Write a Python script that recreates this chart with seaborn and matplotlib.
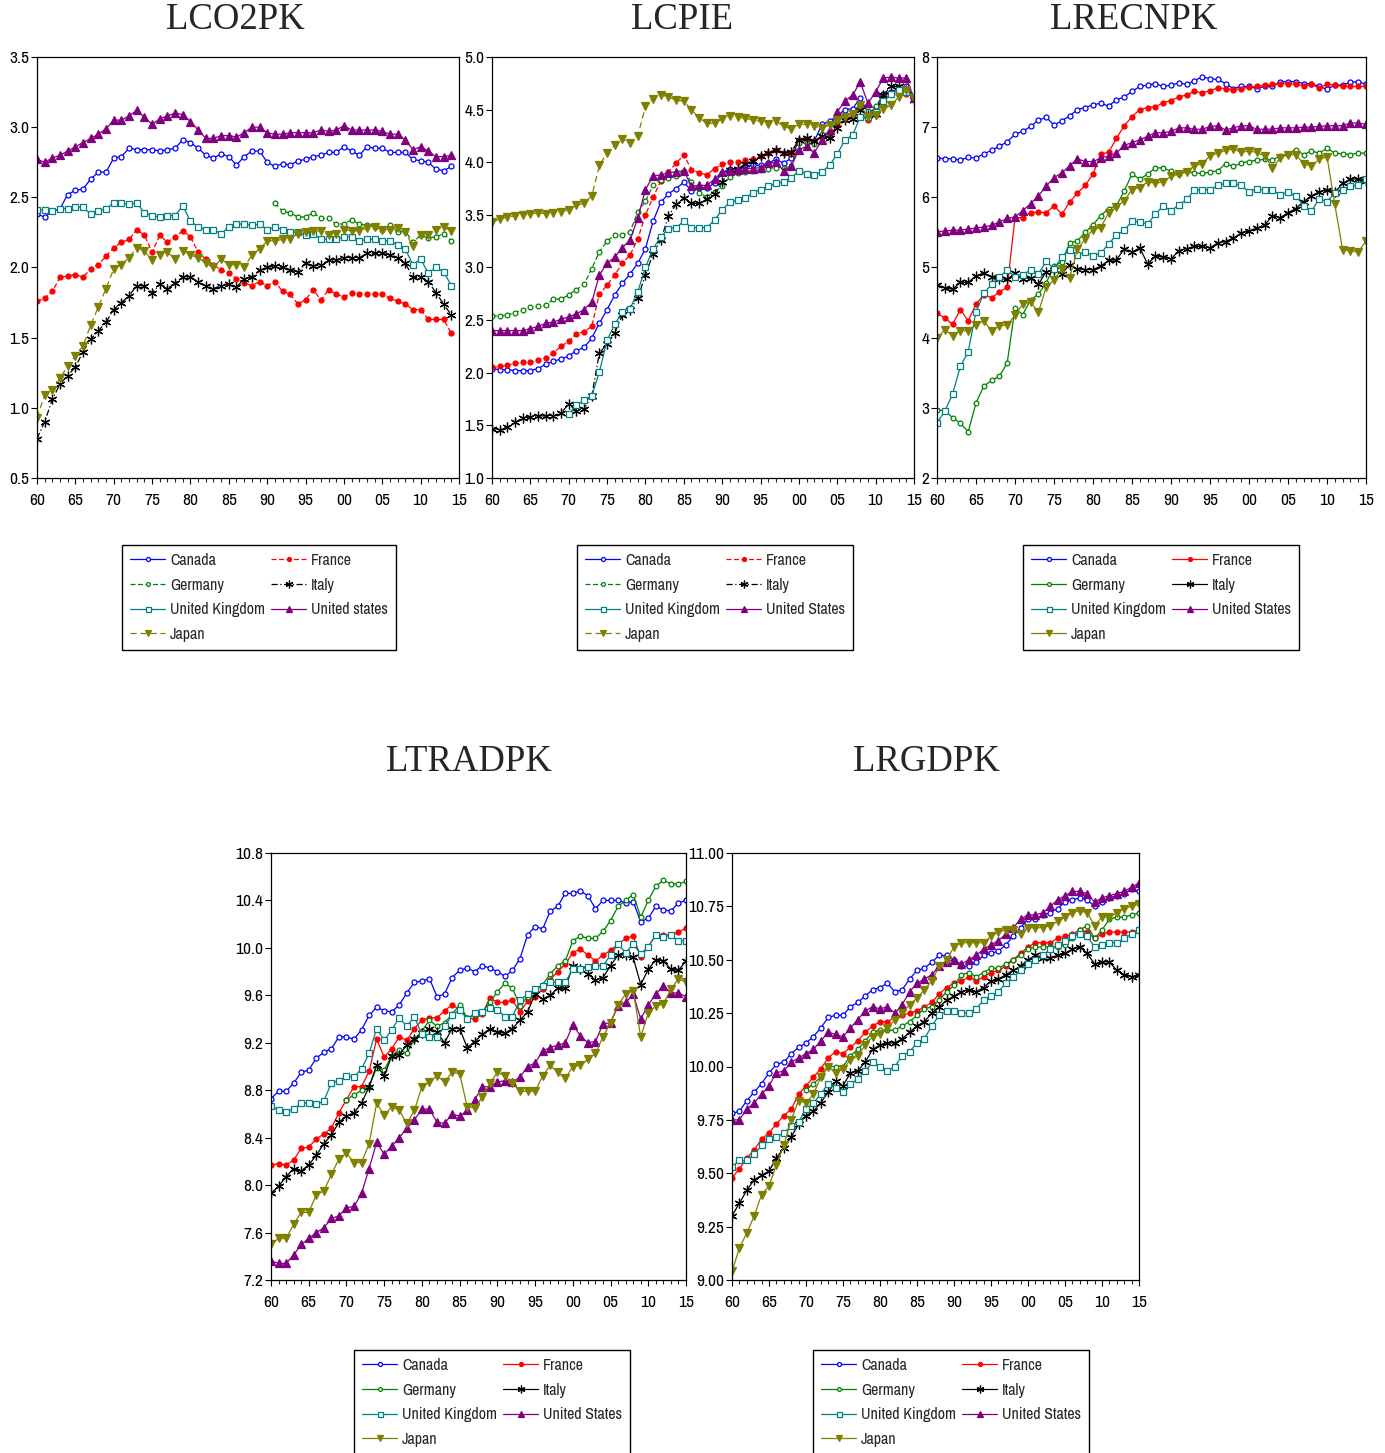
import matplotlib
matplotlib.use("Agg")
import matplotlib.pyplot as plt
from matplotlib import font_manager as fm
from matplotlib.lines import Line2D
from matplotlib.ticker import MultipleLocator, FixedLocator
import seaborn as sns
import numpy as np

sns.set_style("white")

# look for a narrow sans face (the original uses Arial Narrow)
narrow_name, narrow_stretch = None, "normal"
for f in fm.fontManager.ttflist:
    nm = f.name.lower()
    if "narrow" in nm or ("condensed" in nm and "mono" not in nm and "serif" not in nm):
        narrow_name, narrow_stretch = f.name, "normal"
        break
if narrow_name is None:
    for f in fm.fontManager.ttflist:
        if f.stretch in ("condensed", "semi-condensed", "extra-condensed", 62.5, 75, 87.5) \
                and "mono" not in f.name.lower() and "serif" not in f.name.lower():
            narrow_name, narrow_stretch = f.name, f.stretch
            break
if narrow_name is None:
    narrow_name, small = "Liberation Sans", True
else:
    small = False

plt.rcParams['font.family'] = [narrow_name, 'DejaVu Sans']
plt.rcParams['font.stretch'] = narrow_stretch
tick_fs = 10 if small else 12.5
leg_fs = 9.5 if small else 11.5

countries = ["Canada", "France", "Germany", "Italy", "United Kingdom", "United States", "Japan"]

# ---- LCO2PK (1960-2014, Germany from 1991) ----
co2_canada = [2.38, 2.36, 2.40, 2.42, 2.52, 2.55, 2.56, 2.63, 2.68, 2.68, 2.78, 2.79, 2.85, 2.84, 2.84, 2.84, 2.83, 2.84, 2.85, 2.91,
              2.89, 2.85, 2.80, 2.78, 2.81, 2.79, 2.73, 2.79, 2.83, 2.83, 2.75, 2.72, 2.74, 2.73, 2.76, 2.77, 2.79, 2.80, 2.82, 2.82,
              2.86, 2.83, 2.80, 2.86, 2.85, 2.85, 2.82, 2.82, 2.82, 2.77, 2.76, 2.75, 2.70, 2.69, 2.72]
co2_france = [1.76, 1.78, 1.83, 1.93, 1.94, 1.95, 1.93, 1.99, 2.02, 2.08, 2.14, 2.18, 2.20, 2.27, 2.23, 2.11, 2.23, 2.18, 2.22, 2.26,
              2.22, 2.11, 2.06, 2.02, 1.98, 1.96, 1.92, 1.89, 1.87, 1.90, 1.87, 1.90, 1.83, 1.81, 1.74, 1.77, 1.84, 1.77, 1.84, 1.81,
              1.79, 1.82, 1.81, 1.81, 1.81, 1.81, 1.78, 1.76, 1.74, 1.70, 1.70, 1.63, 1.63, 1.63, 1.53]
co2_germany = [2.46, 2.40, 2.39, 2.36, 2.36, 2.39, 2.35, 2.35, 2.31, 2.31, 2.34, 2.31, 2.30, 2.29, 2.27, 2.30, 2.25, 2.26, 2.18, 2.23,
               2.21, 2.22, 2.24, 2.19]
co2_italy = [0.78, 0.90, 1.06, 1.17, 1.23, 1.29, 1.40, 1.49, 1.55, 1.61, 1.70, 1.75, 1.80, 1.87, 1.87, 1.82, 1.88, 1.85, 1.89, 1.93,
             1.93, 1.90, 1.87, 1.85, 1.87, 1.88, 1.86, 1.92, 1.93, 1.98, 2.00, 2.01, 2.00, 1.98, 1.97, 2.03, 2.01, 2.02, 2.05, 2.05,
             2.07, 2.07, 2.07, 2.10, 2.10, 2.10, 2.09, 2.07, 2.03, 1.93, 1.93, 1.90, 1.82, 1.74, 1.66]
co2_uk = [2.41, 2.41, 2.40, 2.42, 2.42, 2.43, 2.43, 2.38, 2.40, 2.42, 2.46, 2.46, 2.45, 2.46, 2.39, 2.37, 2.36, 2.37, 2.37, 2.44,
          2.33, 2.29, 2.27, 2.27, 2.24, 2.29, 2.31, 2.31, 2.30, 2.31, 2.27, 2.29, 2.27, 2.25, 2.25, 2.23, 2.24, 2.20, 2.20, 2.20,
          2.22, 2.22, 2.19, 2.20, 2.20, 2.19, 2.19, 2.16, 2.13, 2.02, 2.06, 1.96, 2.00, 1.97, 1.87]
co2_us = [2.77, 2.75, 2.78, 2.80, 2.83, 2.86, 2.89, 2.92, 2.95, 2.99, 3.05, 3.05, 3.08, 3.12, 3.07, 3.02, 3.06, 3.08, 3.10, 3.09,
          3.04, 2.98, 2.92, 2.92, 2.94, 2.94, 2.93, 2.96, 3.00, 3.00, 2.96, 2.95, 2.95, 2.96, 2.96, 2.96, 2.96, 2.98, 2.97, 2.98,
          3.01, 2.98, 2.98, 2.98, 2.98, 2.97, 2.95, 2.95, 2.91, 2.84, 2.86, 2.83, 2.79, 2.79, 2.80]
co2_japan = [0.93, 1.09, 1.13, 1.21, 1.30, 1.37, 1.44, 1.59, 1.72, 1.85, 1.99, 2.02, 2.07, 2.14, 2.12, 2.05, 2.09, 2.11, 2.06, 2.12,
             2.09, 2.07, 2.03, 2.00, 2.06, 2.02, 2.02, 2.00, 2.09, 2.13, 2.19, 2.19, 2.20, 2.20, 2.24, 2.25, 2.26, 2.26, 2.23, 2.24,
             2.27, 2.26, 2.26, 2.28, 2.29, 2.27, 2.27, 2.28, 2.25, 2.15, 2.23, 2.23, 2.27, 2.29, 2.26]

# ---- LCPIE (1960-2015, UK from 1970) ----
cpi_canada = [2.04, 2.03, 2.03, 2.02, 2.02, 2.02, 2.04, 2.08, 2.11, 2.13, 2.16, 2.21, 2.24, 2.33, 2.47, 2.60, 2.74, 2.85, 2.94, 3.04,
              3.18, 3.44, 3.62, 3.70, 3.75, 3.81, 3.73, 3.76, 3.76, 3.80, 3.90, 3.94, 3.93, 3.96, 3.97, 3.97, 3.99, 4.03, 3.99, 4.04,
              4.21, 4.21, 4.20, 4.36, 4.39, 4.44, 4.50, 4.51, 4.61, 4.47, 4.51, 4.65, 4.67, 4.70, 4.72, 4.61]
cpi_france = [2.05, 2.06, 2.07, 2.09, 2.10, 2.10, 2.12, 2.14, 2.19, 2.25, 2.30, 2.37, 2.39, 2.44, 2.75, 2.83, 2.93, 3.04, 3.12, 3.27,
              3.50, 3.67, 3.82, 3.91, 3.99, 4.07, 3.93, 3.90, 3.88, 3.94, 3.98, 4.00, 4.00, 4.02, 4.03, 4.06, 4.09, 4.12, 4.09, 4.09,
              4.21, 4.22, 4.20, 4.24, 4.25, 4.36, 4.41, 4.45, 4.54, 4.40, 4.45, 4.62, 4.66, 4.69, 4.65, 4.60]
cpi_germany = [2.54, 2.54, 2.55, 2.57, 2.60, 2.62, 2.63, 2.64, 2.70, 2.70, 2.74, 2.79, 2.84, 2.99, 3.15, 3.25, 3.31, 3.31, 3.34, 3.53,
               3.63, 3.78, 3.83, 3.85, 3.87, 3.92, 3.81, 3.71, 3.67, 3.72, 3.77, 3.86, 3.90, 3.91, 3.92, 3.93, 3.94, 3.95, 3.95, 3.96,
               4.18, 4.18, 4.17, 4.27, 4.28, 4.39, 4.43, 4.47, 4.55, 4.49, 4.53, 4.64, 4.65, 4.69, 4.67, 4.61]
cpi_italy = [1.47, 1.46, 1.48, 1.53, 1.57, 1.58, 1.59, 1.59, 1.59, 1.62, 1.70, 1.64, 1.66, 1.78, 2.19, 2.27, 2.38, 2.55, 2.60, 2.71,
             2.93, 3.13, 3.26, 3.49, 3.60, 3.66, 3.61, 3.61, 3.65, 3.70, 3.81, 3.93, 3.94, 3.98, 4.01, 4.06, 4.09, 4.12, 4.09, 4.10,
             4.21, 4.23, 4.20, 4.25, 4.23, 4.33, 4.40, 4.41, 4.50, 4.45, 4.46, 4.64, 4.72, 4.72, 4.69, 4.59]
cpi_uk = [1.61, 1.69, 1.74, 1.78, 2.01, 2.31, 2.46, 2.58, 2.61, 2.77, 3.00, 3.18, 3.29, 3.37, 3.38, 3.44, 3.38, 3.38, 3.38, 3.45,
          3.55, 3.62, 3.64, 3.66, 3.71, 3.74, 3.77, 3.80, 3.81, 3.85, 3.92, 3.89, 3.88, 3.91, 3.97, 4.08, 4.21, 4.26, 4.43, 4.43,
          4.48, 4.58, 4.65, 4.69, 4.67, 4.61]
cpi_us = [2.40, 2.40, 2.40, 2.40, 2.40, 2.42, 2.44, 2.47, 2.48, 2.51, 2.53, 2.56, 2.60, 2.67, 2.93, 3.04, 3.10, 3.19, 3.26, 3.47,
          3.74, 3.87, 3.88, 3.90, 3.91, 3.92, 3.77, 3.78, 3.78, 3.84, 3.91, 3.92, 3.93, 3.94, 3.94, 3.95, 3.99, 4.00, 3.92, 3.96,
          4.12, 4.15, 4.09, 4.21, 4.31, 4.48, 4.58, 4.64, 4.76, 4.56, 4.67, 4.80, 4.81, 4.80, 4.80, 4.61]
cpi_japan = [3.43, 3.46, 3.48, 3.49, 3.50, 3.51, 3.52, 3.51, 3.52, 3.53, 3.55, 3.59, 3.61, 3.68, 3.97, 4.09, 4.16, 4.22, 4.18, 4.25,
             4.53, 4.60, 4.64, 4.62, 4.59, 4.58, 4.50, 4.42, 4.37, 4.37, 4.41, 4.44, 4.43, 4.42, 4.40, 4.39, 4.36, 4.39, 4.34, 4.32,
             4.36, 4.36, 4.34, 4.33, 4.35, 4.40, 4.43, 4.46, 4.54, 4.43, 4.45, 4.51, 4.54, 4.62, 4.69, 4.61]

# ---- LRECNPK (1960-2015) ----
rec_canada = [6.56, 6.55, 6.55, 6.53, 6.57, 6.56, 6.62, 6.67, 6.73, 6.79, 6.90, 6.94, 7.01, 7.10, 7.14, 7.03, 7.09, 7.16, 7.25, 7.28,
              7.32, 7.34, 7.30, 7.39, 7.43, 7.51, 7.58, 7.60, 7.62, 7.58, 7.60, 7.63, 7.61, 7.66, 7.72, 7.69, 7.68, 7.62, 7.55, 7.58,
              7.58, 7.55, 7.58, 7.58, 7.65, 7.65, 7.65, 7.62, 7.62, 7.58, 7.54, 7.60, 7.60, 7.64, 7.65, 7.61]
rec_france = [4.35, 4.28, 4.19, 4.40, 4.24, 4.48, 4.61, 4.57, 4.65, 4.72, 5.71, 5.71, 5.78, 5.79, 5.78, 5.88, 5.76, 5.93, 6.06, 6.17,
              6.33, 6.62, 6.64, 6.84, 7.02, 7.15, 7.25, 7.28, 7.29, 7.35, 7.38, 7.43, 7.46, 7.51, 7.49, 7.52, 7.56, 7.55, 7.53, 7.55,
              7.57, 7.58, 7.60, 7.61, 7.62, 7.62, 7.61, 7.59, 7.61, 7.56, 7.61, 7.60, 7.58, 7.58, 7.58, 7.58]
rec_germany = [2.97, 2.96, 2.86, 2.78, 2.66, 3.07, 3.31, 3.39, 3.45, 3.64, 4.42, 4.33, 4.54, 4.62, 4.78, 5.02, 5.08, 5.35, 5.38, 5.50,
               5.61, 5.74, 5.84, 5.88, 6.09, 6.33, 6.26, 6.33, 6.42, 6.42, 6.37, 6.33, 6.37, 6.35, 6.34, 6.36, 6.38, 6.48, 6.44, 6.49,
               6.51, 6.53, 6.54, 6.53, 6.59, 6.62, 6.68, 6.61, 6.66, 6.63, 6.70, 6.63, 6.62, 6.61, 6.63, 6.63]
rec_italy = [4.75, 4.71, 4.69, 4.79, 4.79, 4.88, 4.92, 4.87, 4.84, 4.83, 4.92, 4.84, 4.85, 4.76, 4.94, 4.96, 4.91, 5.04, 4.98, 4.97,
             4.97, 5.02, 5.10, 5.11, 5.26, 5.22, 5.28, 5.05, 5.16, 5.15, 5.12, 5.24, 5.27, 5.30, 5.30, 5.28, 5.35, 5.37, 5.42, 5.49,
             5.52, 5.56, 5.60, 5.74, 5.71, 5.78, 5.84, 5.94, 6.02, 6.08, 6.11, 6.07, 6.20, 6.26, 6.26, 6.23]
rec_uk = [2.79, 2.95, 3.20, 3.59, 3.80, 4.37, 4.63, 4.76, 4.87, 4.96, 4.87, 4.89, 4.97, 4.91, 5.09, 4.98, 5.15, 5.25, 5.18, 5.22,
          5.17, 5.20, 5.34, 5.46, 5.53, 5.66, 5.65, 5.62, 5.76, 5.88, 5.81, 5.89, 5.97, 6.10, 6.11, 6.11, 6.17, 6.20, 6.20, 6.17,
          6.08, 6.12, 6.10, 6.10, 6.04, 6.07, 6.02, 5.88, 5.80, 5.98, 5.94, 6.06, 6.10, 6.16, 6.17, 6.26]
rec_us = [5.51, 5.52, 5.53, 5.53, 5.55, 5.56, 5.58, 5.60, 5.65, 5.70, 5.72, 5.81, 5.91, 6.02, 6.16, 6.28, 6.35, 6.45, 6.55, 6.51,
          6.51, 6.56, 6.59, 6.63, 6.74, 6.78, 6.82, 6.87, 6.92, 6.92, 6.94, 6.99, 6.99, 6.97, 6.97, 7.01, 7.02, 6.96, 6.99, 7.02,
          7.02, 6.97, 6.97, 6.97, 6.99, 6.99, 6.99, 7.00, 7.00, 7.01, 7.02, 7.02, 7.02, 7.06, 7.06, 7.04]
rec_japan = [3.99, 4.11, 4.03, 4.10, 4.10, 4.18, 4.24, 4.09, 4.17, 4.18, 4.32, 4.48, 4.51, 4.36, 4.72, 4.82, 4.98, 4.85, 5.26, 5.41,
             5.54, 5.57, 5.78, 5.86, 5.95, 6.11, 6.14, 6.22, 6.20, 6.22, 6.30, 6.33, 6.36, 6.45, 6.48, 6.59, 6.63, 6.67, 6.69, 6.64,
             6.66, 6.64, 6.59, 6.42, 6.56, 6.61, 6.61, 6.48, 6.45, 6.54, 6.58, 5.90, 5.25, 5.24, 5.22, 5.38]

# ---- LTRADPK (1960-2015, Germany from 1970) ----
trd_canada = [8.73, 8.79, 8.79, 8.86, 8.95, 8.97, 9.07, 9.12, 9.15, 9.25, 9.25, 9.23, 9.31, 9.43, 9.50, 9.47, 9.46, 9.52, 9.62, 9.71,
              9.72, 9.74, 9.59, 9.61, 9.75, 9.81, 9.83, 9.80, 9.85, 9.83, 9.80, 9.76, 9.81, 9.91, 10.11, 10.18, 10.16, 10.31, 10.35, 10.46,
              10.46, 10.48, 10.44, 10.33, 10.40, 10.40, 10.40, 10.38, 10.39, 10.22, 10.25, 10.35, 10.32, 10.31, 10.38, 10.40]
trd_france = [8.17, 8.18, 8.17, 8.21, 8.31, 8.32, 8.39, 8.43, 8.48, 8.61, 8.72, 8.83, 8.83, 8.96, 9.23, 9.08, 9.15, 9.25, 9.22, 9.32,
              9.39, 9.41, 9.41, 9.47, 9.52, 9.48, 9.41, 9.40, 9.44, 9.58, 9.54, 9.54, 9.56, 9.46, 9.55, 9.59, 9.65, 9.73, 9.80, 9.86,
              9.96, 9.99, 9.94, 9.89, 9.94, 9.98, 10.03, 10.08, 10.10, 9.92, 10.01, 10.11, 10.11, 10.11, 10.13, 10.17]
trd_germany = [8.72, 8.76, 8.80, 8.83, 8.99, 8.97, 9.09, 9.14, 9.11, 9.23, 9.30, 9.39, 9.34, 9.37, 9.44, 9.52, 9.41, 9.43, 9.46, 9.54,
               9.63, 9.70, 9.66, 9.51, 9.59, 9.65, 9.69, 9.78, 9.85, 9.89, 10.06, 10.10, 10.08, 10.08, 10.14, 10.23, 10.35, 10.40, 10.45, 10.26,
               10.40, 10.52, 10.57, 10.54, 10.54, 10.56]
trd_italy = [7.93, 7.99, 8.07, 8.14, 8.12, 8.17, 8.25, 8.35, 8.42, 8.53, 8.58, 8.61, 8.69, 8.83, 9.01, 8.92, 9.09, 9.10, 9.18, 9.23,
             9.28, 9.32, 9.29, 9.20, 9.32, 9.32, 9.16, 9.21, 9.27, 9.32, 9.29, 9.28, 9.32, 9.39, 9.46, 9.61, 9.57, 9.60, 9.66, 9.66,
             9.85, 9.82, 9.78, 9.73, 9.75, 9.85, 9.94, 9.94, 9.92, 9.69, 9.82, 9.90, 9.89, 9.82, 9.81, 9.89]
trd_uk = [8.67, 8.63, 8.62, 8.64, 8.69, 8.69, 8.68, 8.71, 8.86, 8.88, 8.92, 8.91, 8.98, 9.11, 9.32, 9.22, 9.31, 9.41, 9.34, 9.42,
          9.27, 9.25, 9.25, 9.34, 9.43, 9.48, 9.40, 9.45, 9.46, 9.49, 9.48, 9.42, 9.42, 9.56, 9.61, 9.65, 9.68, 9.71, 9.71, 9.71,
          9.82, 9.82, 9.84, 9.85, 9.85, 9.94, 10.03, 9.96, 10.03, 9.95, 10.01, 10.11, 10.09, 10.11, 10.06, 10.06]
trd_us = [7.36, 7.34, 7.34, 7.41, 7.50, 7.55, 7.60, 7.64, 7.72, 7.74, 7.81, 7.82, 7.93, 8.14, 8.36, 8.26, 8.33, 8.40, 8.48, 8.55,
          8.64, 8.64, 8.53, 8.52, 8.60, 8.58, 8.63, 8.72, 8.83, 8.83, 8.87, 8.88, 8.87, 8.91, 9.00, 9.03, 9.13, 9.16, 9.18, 9.20,
          9.35, 9.26, 9.20, 9.21, 9.36, 9.37, 9.51, 9.54, 9.61, 9.40, 9.52, 9.61, 9.68, 9.62, 9.62, 9.59]
trd_japan = [7.50, 7.55, 7.55, 7.67, 7.77, 7.77, 7.92, 7.95, 8.09, 8.22, 8.27, 8.19, 8.19, 8.35, 8.69, 8.59, 8.66, 8.63, 8.52, 8.63,
             8.83, 8.87, 8.92, 8.87, 8.95, 8.94, 8.66, 8.65, 8.74, 8.86, 8.95, 8.92, 8.86, 8.79, 8.79, 8.79, 8.92, 9.01, 8.95, 8.90,
             9.00, 9.01, 9.06, 9.11, 9.25, 9.37, 9.52, 9.61, 9.64, 9.25, 9.45, 9.51, 9.53, 9.65, 9.74, 9.71]

# ---- LRGDPK (1960-2015, Germany from 1970) ----
gdp_canada = [9.78, 9.79, 9.84, 9.88, 9.92, 9.97, 10.01, 10.02, 10.06, 10.09, 10.11, 10.14, 10.18, 10.23, 10.24, 10.24, 10.28, 10.30, 10.33, 10.36,
              10.37, 10.39, 10.35, 10.36, 10.41, 10.45, 10.46, 10.49, 10.52, 10.52, 10.50, 10.47, 10.47, 10.49, 10.52, 10.53, 10.54, 10.57, 10.61, 10.65,
              10.69, 10.69, 10.71, 10.72, 10.74, 10.77, 10.78, 10.79, 10.78, 10.75, 10.77, 10.79, 10.80, 10.81, 10.83, 10.82]
gdp_france = [9.48, 9.52, 9.57, 9.61, 9.66, 9.69, 9.73, 9.77, 9.80, 9.87, 9.91, 9.95, 9.99, 10.04, 10.07, 10.06, 10.09, 10.12, 10.16, 10.19,
              10.21, 10.21, 10.23, 10.24, 10.25, 10.26, 10.28, 10.30, 10.34, 10.37, 10.39, 10.40, 10.42, 10.40, 10.42, 10.44, 10.45, 10.47, 10.50, 10.53,
              10.56, 10.58, 10.58, 10.58, 10.60, 10.61, 10.62, 10.64, 10.63, 10.60, 10.62, 10.63, 10.63, 10.63, 10.63, 10.64]
gdp_germany = [9.89, 9.92, 9.95, 10.00, 10.00, 10.00, 10.05, 10.08, 10.12, 10.16, 10.17, 10.17, 10.17, 10.19, 10.21, 10.24, 10.27, 10.28, 10.31, 10.35,
               10.38, 10.43, 10.44, 10.42, 10.44, 10.46, 10.46, 10.48, 10.50, 10.52, 10.55, 10.56, 10.56, 10.56, 10.56, 10.57, 10.60, 10.64, 10.66, 10.60,
               10.64, 10.69, 10.70, 10.70, 10.71, 10.72]
gdp_italy = [9.30, 9.36, 9.42, 9.47, 9.49, 9.51, 9.57, 9.62, 9.67, 9.73, 9.77, 9.79, 9.83, 9.88, 9.93, 9.91, 9.97, 9.98, 10.02, 10.08,
             10.10, 10.11, 10.11, 10.13, 10.16, 10.19, 10.21, 10.25, 10.28, 10.31, 10.33, 10.35, 10.36, 10.35, 10.37, 10.40, 10.41, 10.43, 10.45, 10.47,
             10.50, 10.52, 10.51, 10.51, 10.52, 10.53, 10.55, 10.56, 10.53, 10.48, 10.49, 10.49, 10.45, 10.43, 10.42, 10.43]
gdp_uk = [9.53, 9.56, 9.56, 9.59, 9.63, 9.66, 9.67, 9.69, 9.72, 9.74, 9.80, 9.83, 9.87, 9.92, 9.90, 9.88, 9.92, 9.94, 9.98, 10.02,
          10.00, 9.98, 10.00, 10.05, 10.07, 10.11, 10.13, 10.19, 10.24, 10.26, 10.26, 10.25, 10.25, 10.27, 10.31, 10.33, 10.35, 10.39, 10.42, 10.45,
          10.48, 10.50, 10.52, 10.55, 10.57, 10.59, 10.61, 10.62, 10.61, 10.56, 10.57, 10.58, 10.58, 10.60, 10.62, 10.64]
gdp_us = [9.75, 9.75, 9.80, 9.83, 9.87, 9.91, 9.97, 9.98, 10.02, 10.04, 10.06, 10.08, 10.12, 10.16, 10.15, 10.14, 10.18, 10.22, 10.26, 10.28,
          10.27, 10.28, 10.25, 10.29, 10.35, 10.39, 10.41, 10.43, 10.47, 10.49, 10.50, 10.48, 10.50, 10.52, 10.55, 10.57, 10.59, 10.62, 10.65, 10.69,
          10.71, 10.71, 10.72, 10.75, 10.78, 10.80, 10.82, 10.82, 10.81, 10.77, 10.79, 10.80, 10.81, 10.82, 10.84, 10.86]
gdp_japan = [9.04, 9.15, 9.22, 9.30, 9.40, 9.44, 9.54, 9.63, 9.75, 9.84, 9.83, 9.87, 9.95, 10.00, 9.97, 9.99, 10.03, 10.05, 10.10, 10.14,
             10.15, 10.18, 10.22, 10.25, 10.29, 10.32, 10.36, 10.40, 10.47, 10.50, 10.56, 10.58, 10.58, 10.58, 10.58, 10.61, 10.63, 10.64, 10.64, 10.62,
             10.65, 10.65, 10.65, 10.66, 10.68, 10.70, 10.72, 10.73, 10.72, 10.66, 10.70, 10.70, 10.72, 10.74, 10.75, 10.76]

# country styles: colour, marker, marker face, marker size
style = {
    "Canada":         ("#0000FF", "o", "white", 3.6),
    "France":         ("#FF0000", "o", "#FF0000", 3.6),
    "Germany":        ("#008000", "o", "white", 3.4),
    "Italy":          ("#000000", (6, 2, 0), "#000000", 7),
    "United Kingdom": ("#008080", "s", "white", 4.5),
    "United States":  ("#800080", "^", "#800080", 5.5),
    "Japan":          ("#808000", "v", "#808000", 5.5),
}
dashed_ls = {"France": (0, (4, 2)), "Germany": (0, (4, 2)), "Italy": (0, (5, 2, 1, 2)), "Japan": (0, (5, 3))}

panels = [
    dict(title="LCO2PK", tx=235, rect=[37, 57, 459, 478], ylim=(0.5, 3.5), ystep=0.5, yfmt="{:.1f}", dashed=True,
         legend=(122, 545), us_label="United states",
         data={"Canada": (1960, co2_canada), "France": (1960, co2_france), "Germany": (1991, co2_germany),
               "Italy": (1960, co2_italy), "United Kingdom": (1960, co2_uk), "United States": (1960, co2_us),
               "Japan": (1960, co2_japan)}),
    dict(title="LCPIE", tx=682, rect=[492, 57, 914, 478], ylim=(1.0, 5.0), ystep=0.5, yfmt="{:.1f}", dashed=True,
         legend=(577, 545), us_label="United States",
         data={"Canada": (1960, cpi_canada), "France": (1960, cpi_france), "Germany": (1960, cpi_germany),
               "Italy": (1960, cpi_italy), "United Kingdom": (1970, cpi_uk), "United States": (1960, cpi_us),
               "Japan": (1960, cpi_japan)}),
    dict(title="LRECNPK", tx=1134, rect=[937, 57, 1366, 478], ylim=(2, 8), ystep=1, yfmt="{:.0f}", dashed=False,
         legend=(1023, 545), us_label="United States",
         data={"Canada": (1960, rec_canada), "France": (1960, rec_france), "Germany": (1960, rec_germany),
               "Italy": (1960, rec_italy), "United Kingdom": (1960, rec_uk), "United States": (1960, rec_us),
               "Japan": (1960, rec_japan)}),
    dict(title="LTRADPK", tx=469, rect=[271, 853, 686, 1280], ylim=(7.2, 10.8), ystep=0.4, yfmt="{:.1f}", dashed=False,
         legend=(354, 1350), us_label="United States",
         data={"Canada": (1960, trd_canada), "France": (1960, trd_france), "Germany": (1970, trd_germany),
               "Italy": (1960, trd_italy), "United Kingdom": (1960, trd_uk), "United States": (1960, trd_us),
               "Japan": (1960, trd_japan)}),
    dict(title="LRGDPK", tx=926, rect=[732, 853, 1139, 1280], ylim=(9.0, 11.0), ystep=0.25, yfmt="{:.2f}", dashed=False,
         legend=(813, 1350), us_label="United States",
         data={"Canada": (1960, gdp_canada), "France": (1960, gdp_france), "Germany": (1970, gdp_germany),
               "Italy": (1960, gdp_italy), "United Kingdom": (1960, gdp_uk), "United States": (1960, gdp_us),
               "Japan": (1960, gdp_japan)}),
]

W, H = 1385, 1453
fig = plt.figure(figsize=(W / 100, H / 100), dpi=100)

legend_order = ["Canada", "Germany", "United Kingdom", "Japan", "France", "Italy", "United States"]

for p in panels:
    x0, y0, x1, y1 = p["rect"]
    ax = fig.add_axes([x0 / W, 1 - y1 / H, (x1 - x0) / W, (y1 - y0) / H])
    handles = {}
    for c in countries:
        start, vals = p["data"][c]
        years = np.arange(start, start + len(vals))
        col, mk, fc, ms = style[c]
        ls = dashed_ls.get(c, "-") if p["dashed"] else "-"
        sns.lineplot(x=years, y=vals, ax=ax, color=col, marker=mk, markersize=ms,
                     markerfacecolor=fc, markeredgecolor=col, markeredgewidth=0.9,
                     linewidth=0.9, linestyle=ls, estimator=None, sort=False, legend=False)
        handles[c] = Line2D([], [], color=col, marker=mk, markersize=ms * 0.8, markerfacecolor=fc,
                            markeredgecolor=col, markeredgewidth=0.9, linewidth=0.9, linestyle=ls)

    ax.set_xlim(1960, 2015)
    ax.set_ylim(*p["ylim"])
    xt = list(range(1960, 2016, 5))
    ax.xaxis.set_major_locator(FixedLocator(xt))
    ax.set_xticklabels([f"{y % 100:02d}" for y in xt])
    ax.xaxis.set_minor_locator(MultipleLocator(1))
    yt = np.arange(p["ylim"][0], p["ylim"][1] + 1e-9, p["ystep"])
    ax.set_yticks(yt)
    ax.set_yticklabels([p["yfmt"].format(v) for v in yt])
    ax.tick_params(axis="both", which="major", direction="out", length=4.5, width=0.8,
                   labelsize=tick_fs, colors="black", bottom=True, left=True)
    ax.tick_params(axis="x", which="major", pad=6)
    ax.tick_params(axis="y", which="major", pad=1)
    ax.tick_params(axis="x", which="minor", direction="out", length=3, width=0.8, bottom=True)
    for s in ax.spines.values():
        s.set_color("black")
        s.set_linewidth(0.9)
    ax.set_xlabel("")
    ax.set_ylabel("")

    ty = 1 - (y0 - 37) / H if y0 < 100 else 1 - (y0 - 91) / H
    fig.text(p["tx"] / W, ty, p["title"], ha="center", va="center", fontsize=26.5,
             family=["Liberation Serif", "DejaVu Serif"], stretch="normal")

    labels = {c: c for c in countries}
    labels["United States"] = p["us_label"]
    lx, ly = p["legend"]
    fig.legend([handles[c] for c in legend_order], [labels[c] for c in legend_order],
               loc="upper left", bbox_to_anchor=(lx / W, 1 - ly / H), ncol=2,
               frameon=True, fancybox=False, edgecolor="black", framealpha=1,
               fontsize=leg_fs, handlelength=2.2, handletextpad=0.3, columnspacing=0.4,
               labelspacing=0.6, borderpad=0.5, numpoints=1, borderaxespad=0)

fig.savefig("out.png", dpi=100)
